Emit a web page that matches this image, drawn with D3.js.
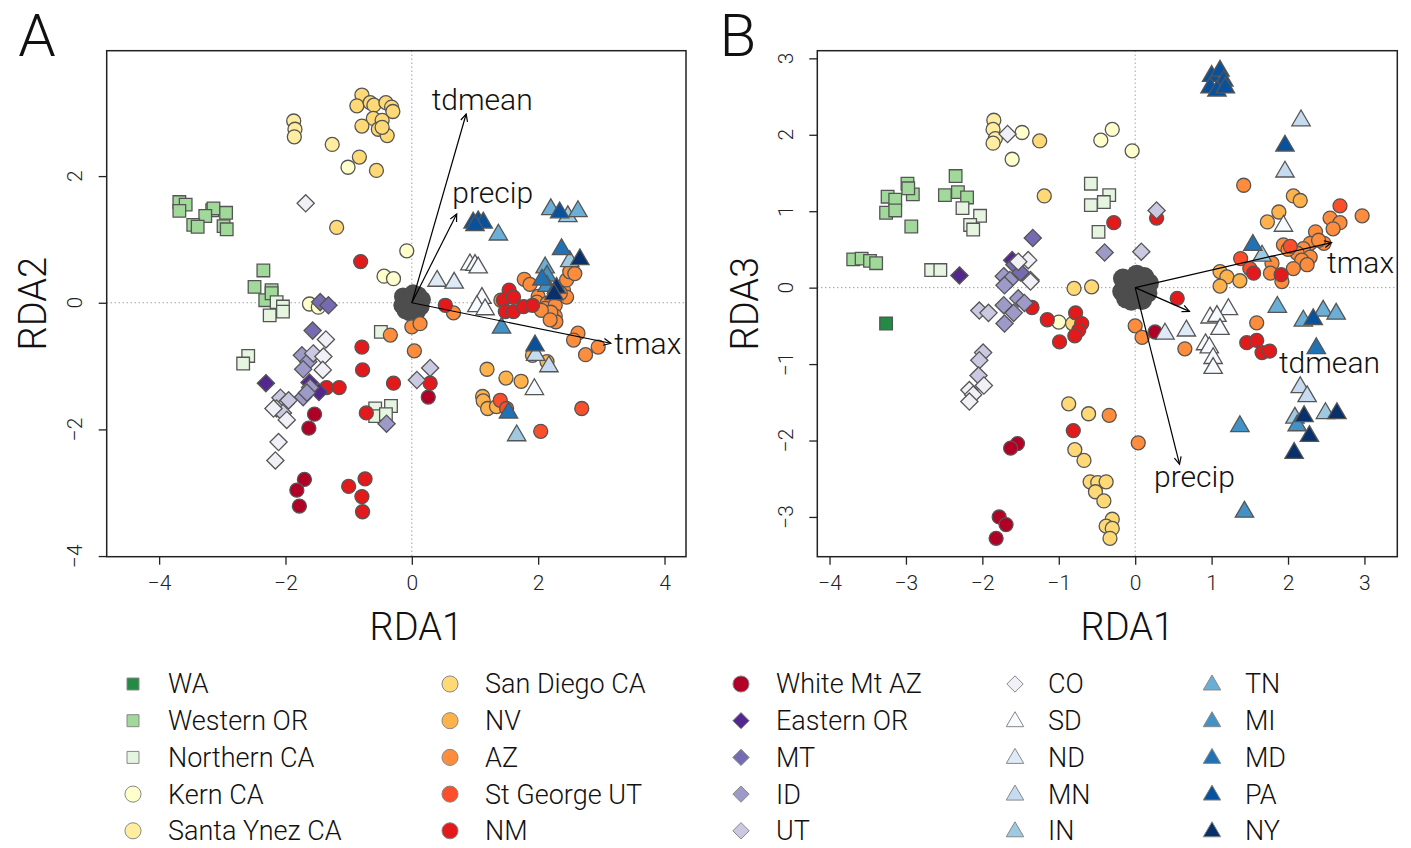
<!DOCTYPE html>
<html>
<head>
<meta charset="utf-8">
<script src="https://cdn.jsdelivr.net/npm/d3@7"></script>
<style>
  body { margin: 0; background: #fff; }
  svg { display: block; font-family: Roboto, "Liberation Sans", sans-serif; font-weight: 300; }
</style>
</head>
<body>
<script>
const W = 1411, H = 848;

// population groups, in legend order
const groups = ["WA", "Western OR", "Northern CA", "Kern CA", "Santa Ynez CA",
  "San Diego CA", "NV", "AZ", "St George UT", "NM",
  "White Mt AZ", "Eastern OR", "MT", "ID", "UT",
  "CO", "SD", "ND", "MN", "IN",
  "TN", "MI", "MD", "PA", "NY"];
const palette = ["#238b45", "#a1d99b", "#e5f5e0", "#ffffcc", "#ffeda0",
  "#fed976", "#feb24c", "#fd8d3c", "#fc4e2a", "#e31a1c",
  "#b10026", "#54278f", "#756bb1", "#9e9ac8", "#cbc9e2",
  "#f2f0f7", "#f7fbff", "#deebf7", "#c6dbef", "#9ecae1",
  "#6baed6", "#4292c6", "#2171b5", "#08519c", "#08306b"];
const shapeOf = ["square", "square", "square", "circle", "circle",
  "circle", "circle", "circle", "circle", "circle",
  "circle", "diamond", "diamond", "diamond", "diamond",
  "diamond", "triangle", "triangle", "triangle", "triangle",
  "triangle", "triangle", "triangle", "triangle", "triangle"];

// site scores, panel A (RDA1, RDA2)
const waA = [];
const westernOrA = [[-3.68,1.59],[-3.58,1.55],[-3.68,1.45],[-3.16,1.46],[-3.14,1.49],[-3.27,1.37],[-2.94,1.42],[-3.46,1.23],[-3.39,1.20],[-2.98,1.21],[-2.93,1.16],[-2.35,0.51],[-2.49,0.25],[-2.22,0.20],[-2.32,0.04],[-2.22,0.15]];
const northernCaA = [[-2.14,0.01],[-2.04,-0.06],[-2.04,-0.14],[-2.25,-0.20],[-2.59,-0.84],[-2.67,-0.96],[-0.49,-0.46],[-0.58,-1.67],[-0.33,-1.63],[-0.58,-1.79],[-0.41,-1.76]];
const kernA = [[-1.01,2.14],[-0.08,0.82],[-0.44,0.42],[-0.29,0.38],[-1.62,-0.02],[-1.48,-0.07]];
const santaYnezA = [[-1.87,2.87],[-1.85,2.74],[-1.86,2.62],[-1.26,2.50]];
const sanDiegoA = [[-0.79,3.28],[-0.87,3.11],[-0.66,3.16],[-0.60,3.12],[-0.41,3.16],[-0.32,3.09],[-0.30,3.02],[-0.61,2.91],[-0.47,2.88],[-0.79,2.79],[-0.53,2.74],[-0.39,2.64],[-0.47,2.77],[-0.83,2.30],[-0.56,2.09],[-1.19,1.19]];
const nvA = [[1.19,-1.05],[1.49,-1.19],[1.73,-1.24],[1.12,-1.48],[1.13,-1.55],[1.20,-1.67],[1.34,-1.64],[1.91,-0.83],[2.14,-0.93]];
const azA = [[0.00,-0.38],[0.13,-0.33],[0.04,-0.76],[0.66,-0.16],[-0.34,-0.51],[2.63,-0.48],[2.56,-0.59],[2.75,-0.82],[2.95,-0.70],[1.78,0.37],[1.87,0.29],[2.00,0.10],[1.98,0.01],[2.14,-0.01],[2.11,-0.09],[2.27,-0.04],[2.27,-0.21],[2.28,-0.30],[2.40,0.20],[2.45,0.36],[2.50,0.49],[2.58,0.46],[2.45,0.09],[2.35,0.15],[1.41,0.04],[2.20,-0.15],[2.05,-0.12],[2.19,-0.27]];
const stGeorgeA = [[1.40,-1.54],[1.50,-1.67],[2.69,-1.67],[2.04,-2.03]];
const nmA = [[-0.81,0.65],[-0.79,-0.70],[-0.78,-1.06],[-0.29,-1.27],[-1.35,-1.34],[-1.15,-1.34],[-0.72,-1.74],[-1.00,-2.90],[-0.74,-2.78],[-0.79,-3.06],[-0.78,-3.30],[0.29,-1.27],[0.53,-0.04],[1.54,0.20],[1.45,0.04],[1.61,0.09],[1.48,-0.14],[1.61,-0.14],[1.77,-0.06],[1.91,-0.04]];
const whiteMtA = [[-1.54,-1.76],[-1.63,-1.98],[-1.70,-2.79],[-1.82,-2.96],[-1.78,-3.21],[0.26,-1.49]];
const easternOrA = [[-2.31,-1.27],[-1.47,-1.41],[-1.62,-1.26]];
const mtA = [[-1.57,-0.44],[-1.45,0.01],[-1.32,-0.04]];
const idA = [[-1.74,-0.83],[-1.64,-0.93],[-1.72,-1.05],[-1.61,-1.34],[-1.72,-1.49],[-0.40,-1.91],[-1.66,-1.42]];
const utA = [[-2.08,-1.50],[-2.00,-1.59],[-2.14,-1.67],[-2.04,-1.74],[-1.95,-1.54],[-1.56,-0.80],[0.29,-1.03],[0.08,-1.22]];
const coA = [[-1.36,-0.58],[-1.40,-0.85],[-1.41,-1.06],[-2.11,-2.20],[-2.16,-2.49],[-2.19,-1.67],[-1.98,-1.85],[-1.68,1.57]];
const sdA = [[0.92,0.62],[1.00,0.61],[1.05,0.57],[1.11,0.09],[1.03,-0.04],[1.16,-0.09],[1.94,-1.35]];
const ndA = [[0.40,0.36],[0.67,0.33]];
const mnA = [[1.96,-0.81],[2.17,-0.99]];
const inA = [[1.66,-2.08],[2.47,1.38],[2.50,0.67]];
const tnA = [[1.37,1.09],[2.20,1.49],[2.63,1.46],[2.11,0.57]];
const miA = [[2.14,0.44],[2.14,0.28],[1.42,-0.38]];
const mdA = [[2.37,0.86],[2.06,0.38],[1.53,-1.72]];
const paA = [[0.97,1.28],[1.05,1.30],[1.13,1.28],[1.00,1.24],[2.34,1.44],[1.95,-0.66]];
const nyA = [[2.66,0.70],[2.29,0.25],[2.25,0.15]];

// site scores, panel B (RDA1, RDA3)
const waB = [[-3.26,-0.47]];
const westernOrB = [[-3.69,0.37],[-3.58,0.38],[-3.47,0.35],[-3.39,0.32],[-3.24,1.19],[-3.26,0.98],[-3.14,1.15],[-3.14,1.01],[-2.98,1.36],[-2.91,1.22],[-2.93,0.80],[-2.35,1.46],[-2.49,1.21],[-2.32,1.25],[-2.20,1.18],[-2.97,1.30]];
const northernCaB = [[-2.26,1.04],[-2.03,0.94],[-2.16,0.82],[-2.12,0.76],[-2.67,0.23],[-2.55,0.23],[-0.58,1.36],[-0.34,1.21],[-0.41,1.12],[-0.58,1.08],[-0.48,0.73]];
const kernB = [[-1.48,2.03],[-1.61,1.68],[-0.45,1.93],[-0.30,2.07],[-0.04,1.79],[-1.00,-0.45]];
const santaYnezB = [[-1.85,2.19],[-1.86,2.07],[-1.83,1.95],[-1.86,1.89]];
const sanDiegoB = [[-1.25,1.92],[-1.19,1.20],[-0.80,-0.01],[-0.57,0.01],[-0.82,-0.47],[-0.87,-1.52],[-0.61,-1.65],[-0.79,-2.12],[-0.67,-2.26],[-0.59,-2.54],[-0.49,-2.55],[-0.38,-2.54],[-0.52,-2.67],[-0.41,-2.79],[-0.30,-3.03],[-0.38,-3.12],[-0.30,-3.15],[-0.33,-3.28]];
const nvB = [[2.07,1.20],[2.16,1.14],[1.88,0.99],[1.73,0.86],[1.11,0.21],[1.20,0.14],[1.37,0.09],[1.11,0.02]];
const azB = [[1.42,1.34],[2.97,0.94],[2.55,0.91],[2.68,0.85],[2.36,0.73],[2.59,0.77],[2.47,0.58],[2.29,0.58],[2.20,0.51],[2.12,0.45],[2.29,0.40],[2.18,0.36],[2.07,0.25],[1.94,0.56],[1.79,0.32],[1.77,0.19],[1.92,0.08],[0.00,-0.50],[0.09,-0.65],[0.65,-0.80],[1.59,-0.46],[0.04,-2.03],[-0.34,-1.67],[2.40,0.62],[2.00,0.50],[2.25,0.30]];
const stGeorgeB = [[2.68,1.07],[2.03,0.54],[1.38,0.38],[1.50,0.25]];
const nmB = [[1.91,0.17],[1.55,0.19],[-1.35,-0.26],[-1.15,-0.42],[-0.78,-0.33],[-0.70,-0.47],[-0.74,-0.56],[-0.79,-0.63],[-0.99,-0.71],[-0.81,-1.87],[-0.28,0.85],[0.55,-0.14],[0.28,0.91],[1.46,-0.72],[1.59,-0.69],[1.66,-0.85],[1.76,-0.83]];
const whiteMtB = [[-1.54,-2.04],[-1.63,-2.10],[-1.78,-3.00],[-1.69,-3.10],[-1.82,-3.28],[0.26,-0.58]];
const easternOrB = [[-2.30,0.16],[-1.61,0.36]];
const mtB = [[-1.34,0.65],[-1.58,0.30],[-1.50,0.20]];
const idB = [[-0.40,0.46],[-1.72,0.15],[-1.64,0.10],[-1.71,0.03],[-1.72,-0.23],[-1.59,-0.33],[-1.71,-0.47],[-1.53,-0.14],[-1.45,-0.20]];
const utB = [[-2.04,-0.30],[-1.92,-0.33],[-1.99,-0.85],[-2.04,-0.95],[-2.05,-1.15],[0.08,0.47],[0.28,1.01]];
const coB = [[-1.67,2.01],[-1.40,0.36],[-1.53,0.34],[-1.37,0.10],[-1.37,0.08],[-2.17,-1.34],[-2.12,-1.40],[-2.17,-1.49],[-1.98,-1.28]];
const sdB = [[1.94,0.82],[1.22,-0.27],[0.98,-0.38],[1.07,-0.36],[1.11,-0.53],[0.92,-0.73],[0.97,-0.77],[1.02,-0.91],[1.02,-1.04]];
const ndB = [[0.39,-0.59],[0.67,-0.55]];
const mnB = [[2.17,2.20],[1.96,1.53],[2.16,-1.29],[2.25,-1.41]];
const inB = [[1.66,0.43],[2.49,-1.63],[2.09,-1.69]];
const tnB = [[1.86,-0.24],[2.46,-0.29],[2.63,-0.33],[2.20,-0.42]];
const miB = [[2.12,-1.79],[1.37,-1.80],[1.43,-2.92]];
const mdB = [[1.54,0.57],[2.37,-0.78]];
const paB = [[1.00,2.78],[1.11,2.85],[1.16,2.72],[0.98,2.63],[1.07,2.59],[1.18,2.63],[1.96,1.87],[2.33,-0.40]];
const nyB = [[2.64,-1.63],[2.21,-1.67],[2.28,-1.93],[2.08,-2.15]];

// SNP loadings crowding the origin
const snpA = [[0,0],[-0.12,0.08],[0.1,0.12],[0.14,-0.06],[-0.15,-0.04],[-0.04,-0.15],[0.08,-0.14],[-0.1,-0.12],[0.16,0.05],[-0.14,0.1],[0.02,0.15],[0.05,0.05],[-0.06,0.02],[0.04,-0.06]];
const snpB = [[0,0],[-0.14,0.09],[0.12,0.14],[0.16,-0.07],[-0.17,-0.05],[-0.05,-0.17],[0.09,-0.16],[-0.12,-0.14],[0.18,0.06],[-0.16,0.12],[0.02,0.17],[0.06,0.06],[-0.07,0.02],[0.05,-0.07]];

// environmental biplot vectors
const envNames = ["tdmean", "precip", "tmax"];
const envA = [[0.86,2.98],[0.71,1.40],[3.15,-0.64]];
const envB = [[0.71,-0.31],[0.58,-2.31],[2.57,0.59]];

const ticksXA = [-4,-2,0,2,4], ticksYA = [-4,-2,0,2];
const ticksXB = [-4,-3,-2,-1,0,1,2,3], ticksYB = [-3,-2,-1,0,1,2,3];

const sitesA = [waA, westernOrA, northernCaA, kernA, santaYnezA, sanDiegoA, nvA, azA, stGeorgeA, nmA,
  whiteMtA, easternOrA, mtA, idA, utA, coA, sdA, ndA, mnA, inA, tnA, miA, mdA, paA, nyA];
const sitesB = [waB, westernOrB, northernCaB, kernB, santaYnezB, sanDiegoB, nvB, azB, stGeorgeB, nmB,
  whiteMtB, easternOrB, mtB, idB, utB, coB, sdB, ndB, mnB, inB, tnB, miB, mdB, paB, nyB];

function symbolPath(shape, s) {
  if (shape === "square") return `M${-6.3*s},${-6.3*s}h${12.6*s}v${12.6*s}h${-12.6*s}Z`;
  if (shape === "diamond") return `M0,${-8.6*s}L${8.6*s},0L0,${8.6*s}L${-8.6*s},0Z`;
  if (shape === "triangle") return `M0,${-9.5*s}L${9.2*s},${6.3*s}L${-9.2*s},${6.3*s}Z`;
  const r = 7 * s;
  return `M${r},0A${r},${r} 0 1,1 ${-r},0A${r},${r} 0 1,1 ${r},0Z`;
}

const minus = d => d < 0 ? "\u2212" + Math.abs(d) : d;

const svg = d3.select("body").append("svg").attr("width", W).attr("height", H);

const panels = [
  { letter: "A", sites: sitesA, snp: snpA, env: envA, xd: [-4.83, 4.34], yd: [-4.01, 3.98],
    box: [106.7, 686, 50.7, 556.7], tx: ticksXA, ty: ticksYA, ylab: "RDA2", ylabX: 33, ytickX: 75,
    letterX: 37, snpR: 9,
    labelOff: { tdmean: [16, -15], precip: [36, -22], tmax: [37, 0] } },
  { letter: "B", sites: sitesB, snp: snpB, env: envB, xd: [-4.16, 3.43], yd: [-3.52, 3.10],
    box: [817.3, 1397.3, 50.7, 556.7], tx: ticksXB, ty: ticksYB, ylab: "RDA3", ylabX: 745, ytickX: 786,
    letterX: 738, snpR: 10,
    labelOff: { tdmean: [140, 51], precip: [15, 12], tmax: [29, 20] } }
];

panels.forEach(p => {
  const [x0, x1, y0, y1] = p.box;
  const x = d3.scaleLinear().domain(p.xd).range([x0, x1]);
  const y = d3.scaleLinear().domain(p.yd).range([y1, y0]);
  const g = svg.append("g");

  // zero lines
  g.append("line").attr("x1", x0).attr("x2", x1).attr("y1", y(0)).attr("y2", y(0))
    .attr("stroke", "#777").attr("stroke-width", 1).attr("stroke-dasharray", "1,3");
  g.append("line").attr("x1", x(0)).attr("x2", x(0)).attr("y1", y0).attr("y2", y1)
    .attr("stroke", "#777").attr("stroke-width", 1).attr("stroke-dasharray", "1,3");

  // axes
  const xAxis = d3.axisBottom(x).tickValues(p.tx).tickSize(8).tickPadding(10).tickFormat(minus);
  const gx = g.append("g").attr("transform", `translate(0,${y1})`).call(xAxis);
  gx.select(".domain").remove();
  gx.selectAll("line").attr("stroke", "#222").attr("stroke-width", 1.3);
  gx.selectAll("text").attr("font-size", 21).attr("font-family", "Roboto, sans-serif").attr("font-weight", 300).attr("fill", "#222");

  const yAxis = d3.axisLeft(y).tickValues(p.ty).tickSize(8).tickFormat("");
  const gy = g.append("g").attr("transform", `translate(${x0},0)`).call(yAxis);
  gy.select(".domain").remove();
  gy.selectAll("line").attr("stroke", "#222").attr("stroke-width", 1.3);
  g.selectAll(".ylab").data(p.ty).join("text")
    .attr("transform", d => `translate(${p.ytickX},${y(d)}) rotate(-90)`)
    .attr("text-anchor", "middle").attr("dy", "0.35em")
    .attr("font-size", 21).attr("fill", "#222")
    .text(minus);

  // SNP cloud
  g.selectAll(".snp").data(p.snp).join("circle")
    .attr("cx", d => x(d[0])).attr("cy", d => y(d[1])).attr("r", p.snpR)
    .attr("fill", "#4d4d4d");

  // sites
  p.sites.forEach((pts, gi) => {
    g.selectAll(null).data(pts).join("path")
      .attr("transform", d => `translate(${x(d[0])},${y(d[1])})`)
      .attr("d", symbolPath(shapeOf[gi], 1))
      .attr("fill", palette[gi]).attr("stroke", "#555").attr("stroke-width", 1.3);
  });

  // biplot arrows
  p.env.forEach((v, i) => {
    const ox = x(0), oy = y(0), ex = x(v[0]), ey = y(v[1]);
    const a = Math.atan2(ey - oy, ex - ox), L = 8, sp = Math.PI / 7;
    g.append("line").attr("x1", ox).attr("y1", oy).attr("x2", ex).attr("y2", ey)
      .attr("stroke", "#000").attr("stroke-width", 1.2);
    g.append("path")
      .attr("d", `M${ex - L*Math.cos(a - sp)},${ey - L*Math.sin(a - sp)}L${ex},${ey}L${ex - L*Math.cos(a + sp)},${ey - L*Math.sin(a + sp)}`)
      .attr("fill", "none").attr("stroke", "#000").attr("stroke-width", 1.2);
    const off = p.labelOff[envNames[i]];
    g.append("text").attr("x", ex + off[0]).attr("y", ey + off[1])
      .attr("text-anchor", "middle").attr("dy", "0.35em")
      .attr("font-size", 30).attr("fill", "#111").text(envNames[i]);
  });

  // frame
  g.append("rect").attr("x", x0).attr("y", y0).attr("width", x1 - x0).attr("height", y1 - y0)
    .attr("fill", "none").attr("stroke", "#222").attr("stroke-width", 1.5);

  // titles
  g.append("text").attr("x", (x0 + x1) / 2 + 20).attr("y", 640).attr("text-anchor", "middle")
    .attr("font-size", 38).attr("fill", "#111").text("RDA1");
  g.append("text").attr("transform", `translate(${p.ylabX},${(y0 + y1) / 2}) rotate(-90)`)
    .attr("text-anchor", "middle").attr("dy", "0.35em")
    .attr("font-size", 38).attr("fill", "#111").text(p.ylab);
  g.append("text").attr("x", p.letterX).attr("y", 56).attr("text-anchor", "middle")
    .attr("font-size", 60).attr("fill", "#111").text(p.letter);
});

// legend
const legX = [133, 450, 741, 1015, 1212];
const legTextX = [168, 485, 776, 1048, 1245];
const leg = svg.append("g");
groups.forEach((name, i) => {
  const col = Math.floor(i / 5), row = i % 5;
  const cy = 684 + row * 36.7;
  leg.append("path").attr("transform", `translate(${legX[col]},${cy})`)
    .attr("d", symbolPath(shapeOf[i], shapeOf[i] === "circle" ? 1.15 : 0.95))
    .attr("fill", palette[i]).attr("stroke", "#888").attr("stroke-width", 1);
  leg.append("text").attr("x", legTextX[col]).attr("y", cy).attr("dy", "0.35em")
    .attr("font-size", 27).attr("fill", "#111").text(name);
});
</script>
</body>
</html>
